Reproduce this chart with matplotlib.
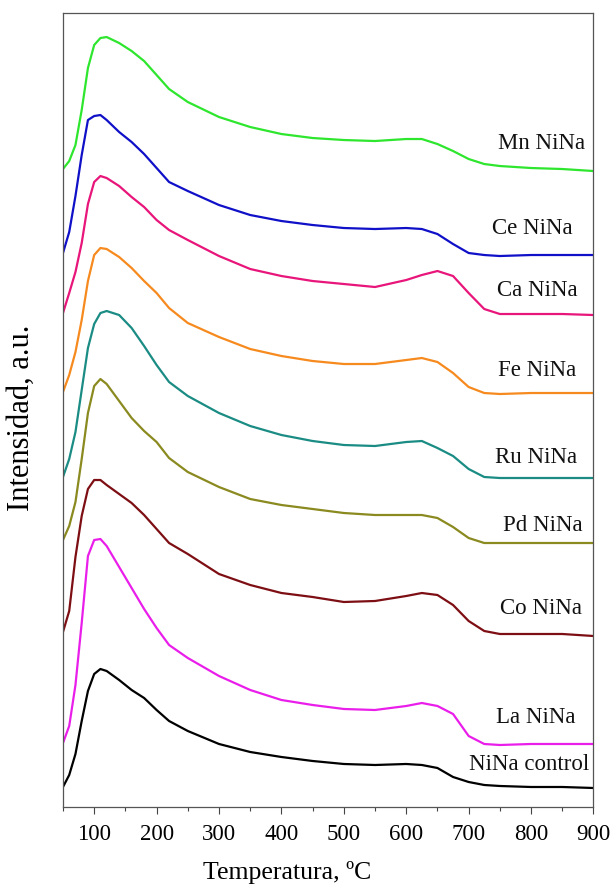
import matplotlib
matplotlib.use("Agg")
import matplotlib.pyplot as plt
from matplotlib.ticker import MultipleLocator

plt.rcParams['font.family'] = ['Liberation Serif', 'DejaVu Serif']

temperature = [50, 60, 70, 80, 90, 100, 110, 120, 140, 160, 180, 200, 220, 250,
               300, 350, 400, 450, 500, 550, 600, 625, 650, 675, 700, 725, 750,
               800, 850, 900]

mn_nina = [638, 646, 662, 697, 739, 762, 769, 770, 764, 756, 746, 732, 718, 705,
           690, 680, 673, 669, 667, 666, 668, 668, 663, 656, 648, 643, 641, 639, 638, 636]
ce_nina = [554, 575, 611, 652, 687, 691, 692, 687, 675, 665, 653, 639, 625, 616,
           602, 592, 586, 582, 579, 578, 579, 578, 573, 563, 554, 552, 551, 552, 552, 552]
ca_nina = [494, 514, 535, 564, 603, 625, 631, 629, 621, 610, 600, 587, 577, 567,
           551, 538, 531, 526, 523, 520, 527, 532, 536, 531, 514, 498, 493, 493, 493, 492]
fe_nina = [415, 432, 455, 487, 526, 552, 559, 558, 550, 539, 526, 514, 499, 484,
           470, 458, 451, 446, 443, 443, 447, 449, 445, 434, 420, 414, 413, 414, 414, 414]
ru_nina = [330, 348, 375, 417, 459, 483, 494, 496, 492, 479, 461, 442, 425, 411,
           394, 381, 372, 366, 362, 361, 365, 366, 359, 351, 338, 330, 329, 329, 329, 329]
pd_nina = [267, 281, 305, 348, 394, 421, 428, 423, 406, 389, 376, 365, 349, 335,
           320, 308, 302, 298, 294, 292, 292, 292, 289, 280, 269, 264, 264, 264, 264, 264]
co_nina = [175, 196, 250, 291, 318, 327, 327, 322, 313, 304, 292, 278, 264, 253,
           233, 222, 214, 210, 205, 206, 211, 214, 212, 202, 186, 176, 173, 173, 173, 171]
la_nina = [64, 81, 122, 184, 251, 267, 268, 261, 240, 219, 198, 179, 162, 149,
           131, 117, 107, 102, 98, 97, 101, 104, 101, 93, 71, 63, 62, 63, 63, 63]
nina_control = [20, 32, 53, 86, 116, 133, 138, 136, 127, 117, 109, 97, 86, 76,
                63, 55, 50, 46, 43, 42, 43, 42, 39, 30, 25, 22, 21, 20, 20, 19]

labels = ["Mn NiNa", "Ce NiNa", "Ca NiNa", "Fe NiNa", "Ru NiNa", "Pd NiNa",
          "Co NiNa", "La NiNa", "NiNa control"]
series = [mn_nina, ce_nina, ca_nina, fe_nina, ru_nina, pd_nina, co_nina, la_nina, nina_control]
colors = ["#2EE62E", "#1010C8", "#E8157A", "#F68A1E", "#1A8C84", "#8A8A20",
          "#7D0F14", "#EA1EEA", "#000000"]

# label anchor positions (right edge, vertical centre)
label_x = [886, 867, 874, 872, 874, 883, 882, 872, 893]
label_y = [664, 579, 517, 437, 350, 282, 199, 89, 42]

fig = plt.figure(figsize=(6.15, 8.92), dpi=100)
ax = fig.add_axes([0.1024, 0.0953, 0.8626, 0.8901])

for vals, col in zip(series, colors):
    ax.plot(temperature, vals, color=col, lw=1.6, solid_joinstyle='round')

for name, lx, ly in zip(labels, label_x, label_y):
    ax.text(lx, ly, name, ha='right', va='center', fontsize=16.5, color='#111111')

ax.set_xlim(50, 900)
ax.set_ylim(0, 794)
ax.xaxis.set_major_locator(MultipleLocator(100))
ax.xaxis.set_minor_locator(MultipleLocator(50))
ax.set_xticks(range(100, 901, 100))
ax.set_yticks([])
ax.tick_params(axis='x', which='major', direction='out', length=5, width=0.8,
               labelsize=16.5, pad=7, color='#444444')
ax.tick_params(axis='x', which='minor', direction='out', length=3, width=0.8, color='#444444')
for sp in ax.spines.values():
    sp.set_color('#555555')
    sp.set_linewidth(0.9)

ax.set_xlabel("Temperatura, ºC", fontsize=18.5)
ax.xaxis.set_label_coords(0.422, -0.068)
ax.set_ylabel("Intensidad, a.u.", fontsize=22)
ax.yaxis.set_label_coords(-0.052, 0.49)

fig.savefig("out.png", dpi=100)
